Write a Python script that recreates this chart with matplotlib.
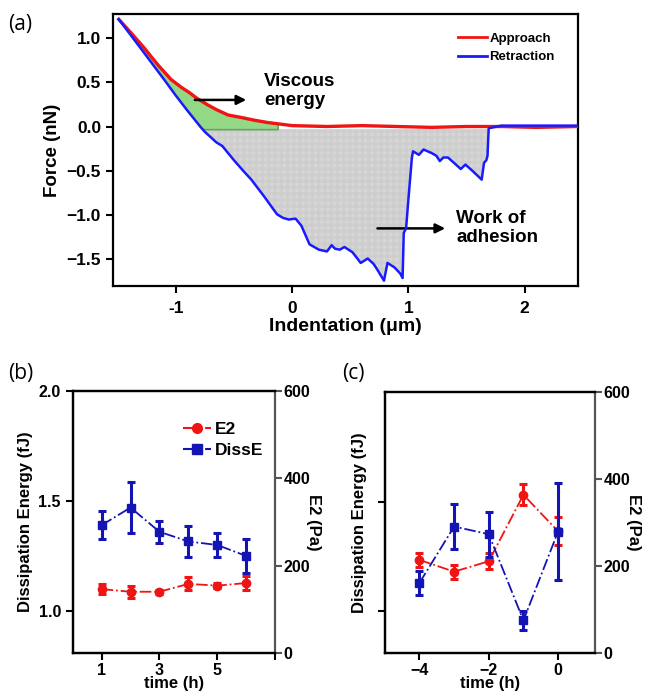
import numpy as np
import matplotlib
matplotlib.use("Agg")
from matplotlib import pyplot as plt
from matplotlib.lines import Line2D

plt.rcParams['font.family'] = ['Liberation Sans', 'DejaVu Sans']
plt.rcParams['font.weight'] = 'bold'
plt.rcParams['axes.labelweight'] = 'bold'
plt.rcParams['hatch.linewidth'] = 0.4
plt.rcParams['axes.unicode_minus'] = True

# ---- panel (a): force curves ----
app_x = [-1.49, -1.40, -1.28, -1.15, -1.04, -0.95, -0.88, -0.82, -0.72, -0.65,
         -0.55, -0.43, -0.32, -0.21, -0.12, 0.0, 0.3, 0.6, 0.9, 1.2, 1.5, 1.8,
         2.1, 2.45]
app_y = [1.21, 1.08, 0.90, 0.69, 0.53, 0.44, 0.38, 0.32, 0.24, 0.19,
         0.13, 0.10, 0.07, 0.045, 0.03, 0.01, 0.0, 0.01, 0.0, -0.01, 0.0, 0.0,
         -0.01, 0.0]

ret_x = [-1.49, -1.30, -1.10, -1.00, -0.90, -0.79, -0.75, -0.65, -0.60, -0.50,
         -0.42, -0.35, -0.24, -0.13, -0.08, -0.03, 0.03, 0.08, 0.15, 0.23,
         0.30, 0.34, 0.37, 0.41, 0.45, 0.52, 0.59, 0.65, 0.70, 0.73, 0.79,
         0.82, 0.88, 0.93, 0.95, 0.96, 0.98, 1.00, 1.03, 1.04, 1.09, 1.13,
         1.20, 1.24, 1.27, 1.30, 1.34, 1.40, 1.45, 1.49, 1.55, 1.63, 1.65,
         1.67, 1.68, 1.69, 1.80, 2.10, 2.45]
ret_y = [1.21, 0.88, 0.53, 0.35, 0.18, 0.0, -0.06, -0.18, -0.22, -0.38,
         -0.50, -0.60, -0.79, -0.99, -1.03, -1.05, -1.04, -1.12, -1.33, -1.39,
         -1.41, -1.34, -1.38, -1.39, -1.36, -1.42, -1.54, -1.49, -1.55, -1.61, -1.74,
         -1.54, -1.59, -1.66, -1.71, -1.20, -1.15, -0.82, -0.35, -0.28, -0.32, -0.26,
         -0.30, -0.33, -0.39, -0.35, -0.35, -0.42, -0.48, -0.43, -0.50, -0.60, -0.41,
         -0.38, -0.33, -0.02, 0.01, 0.01, 0.01]

# ---- panel (b) ----
t_b = [1, 2, 3, 4, 5, 6]
diss_b = [1.39, 1.47, 1.36, 1.316, 1.30, 1.25]
diss_b_err = [0.065, 0.115, 0.05, 0.07, 0.055, 0.075]
e2_b = [146, 140, 140, 158, 154, 160]
e2_b_err = [12, 14, 5, 15, 6, 15]

# ---- panel (c) ----
t_c = [-4, -3, -2, -1, 0]
diss_c = [1.13, 1.387, 1.352, 0.958, 1.364]
diss_c_err = [0.055, 0.103, 0.103, 0.045, 0.22]
e2_c = [214, 187, 211, 364, 280]
e2_c_err = [17, 16, 18, 24, 32]

RED = '#f01414'
BLUE = '#1a1aff'
DBLUE = '#1414b4'

fig = plt.figure(figsize=(6.49, 6.95), dpi=100)

# ================= (a) =================
ax = fig.add_axes([0.174, 0.5885, 0.717, 0.3914])
grid = np.linspace(min(app_x), max(app_x), 800)
a_i = np.interp(grid, app_x, app_y)
r_i = np.interp(grid, ret_x, ret_y)
ax.fill_between(grid, -0.03, r_i, where=(r_i < -0.03) & (grid < 1.7),
                facecolor='#f4f4f4', edgecolor='#cdcdcd', hatch='+' * 14,
                linewidth=0, zorder=1)
low = np.maximum(r_i, -0.03)
ax.fill_between(grid, low, a_i, where=grid <= -0.12, facecolor='#93d884',
                edgecolor='#6f9f62', linewidth=1.2, zorder=2)
ax.plot(app_x, app_y, color=RED, lw=2.4, zorder=3)
ax.plot(ret_x, ret_y, color=BLUE, lw=1.8, zorder=4)

ax.set_xlim(-1.54, 2.46)
ax.set_ylim(-1.80, 1.27)
ax.set_xticks([-1, 0, 1, 2])
ax.set_xticklabels(['-1', '0', '1', '2'])
ax.set_yticks([-1.5, -1.0, -0.5, 0.0, 0.5, 1.0])
ax.set_yticklabels(['\u22121.5', '\u22121.0', '\u22120.5', '0.0', '0.5', '1.0'])
ax.tick_params(labelsize=12.5, width=1.5, length=5)
ax.tick_params(axis='x', pad=6)
for s in ax.spines.values():
    s.set_linewidth(1.6)
ax.set_xlabel('Indentation (\u03bcm)', fontsize=14, labelpad=1)
ax.set_ylabel('Force (nN)', fontsize=13.5, labelpad=4)

ax.annotate('', xy=(-0.37, 0.30), xytext=(-0.86, 0.30),
            arrowprops=dict(arrowstyle='-|>', color='black', lw=1.8,
                            mutation_scale=14))
ax.text(-0.24, 0.40, 'Viscous\nenergy', fontsize=13.5, fontweight='bold',
        va='center', ha='left', linespacing=1.15)
ax.annotate('', xy=(1.34, -1.15), xytext=(0.71, -1.15),
            arrowprops=dict(arrowstyle='-|>', color='black', lw=1.8,
                            mutation_scale=14))
ax.text(1.41, -1.15, 'Work of\nadhesion', fontsize=13.5, fontweight='bold',
        va='center', ha='left', linespacing=1.15)

handles = [Line2D([], [], color=RED, lw=2), Line2D([], [], color=BLUE, lw=2)]
ax.legend(handles, ['Approach', 'Retraction'], loc='upper left',
          bbox_to_anchor=(0.73, 0.95), frameon=False, fontsize=9.5,
          handlelength=2.2, handletextpad=0.2, labelspacing=0.45,
          borderaxespad=0)

fig.text(0.012, 0.965, '(a)', fontsize=15, fontweight='normal',
         family='Open Sans', va='center')


def panel(rect, t, diss, diss_err, e2, e2_err, xlim, xticks, xlabels, ylabels):
    ax = fig.add_axes(rect)
    ax2 = ax.twinx()
    ax2.errorbar(t, e2, yerr=e2_err, color=RED, ls='-.', lw=1.3,
                 marker='o', ms=6, capsize=3, elinewidth=2.2, capthick=2.2)
    ax.errorbar(t, diss, yerr=diss_err, color=DBLUE, ls='-.', lw=1.3,
                marker='s', ms=6, capsize=3, elinewidth=2.2, capthick=2.2)
    ax.set_zorder(ax2.get_zorder() + 1)
    ax.patch.set_visible(False)
    ax.set_ylim(0.81, 2.0)
    ax2.set_ylim(0, 600)
    ax.set_xlim(*xlim)
    ax.set_xticks(xticks)
    ax.set_xticklabels(xlabels)
    if ylabels:
        ax.set_yticks([1.0, 1.5, 2.0])
        ax.set_yticklabels(['1.0', '1.5', '2.0'])
    else:
        ax.set_yticks([1.0, 1.5])
        ax.set_yticklabels(['', ''])
    ax2.set_yticks([0, 200, 400, 600])
    for a in (ax, ax2):
        a.tick_params(labelsize=11.5, width=1.5, length=5)
        for s in a.spines.values():
            s.set_linewidth(1.6)
    ax.tick_params(axis='x', pad=2)
    ax2.spines['right'].set_color('#555555')
    ax.spines['right'].set_visible(False)
    ax2.tick_params(axis='y', color='#555555', pad=1)
    ax.set_xlabel('time (h)', fontsize=12, labelpad=-1)
    ax.set_ylabel('Dissipation Energy (fJ)', fontsize=12, labelpad=4)
    ax2.set_ylabel('E2 (Pa)', fontsize=12, rotation=270, labelpad=8)
    return ax


# ================= (b) =================
axb = panel([0.112, 0.0606, 0.312, 0.377], t_b, diss_b, diss_b_err,
            e2_b, e2_b_err, (0, 7), [1, 3, 5, 7], ['1', '3', '5', ''], True)
leg_h = [Line2D([], [], color=RED, ls='-.', lw=1.5, marker='o', ms=7),
         Line2D([], [], color=DBLUE, ls='-.', lw=1.5, marker='s', ms=7)]
axb.legend(leg_h, ['E2', 'DissE'], loc='upper left',
           bbox_to_anchor=(0.47, 0.94), frameon=False, fontsize=12.5,
           handlelength=1.6, handletextpad=0.2, labelspacing=0.3)
fig.text(0.012, 0.463, '(b)', fontsize=15, fontweight='normal',
         family='Open Sans', va='center')

# ================= (c) =================
panel([0.593, 0.0606, 0.324, 0.3749], t_c, diss_c, diss_c_err, e2_c, e2_c_err,
      (-5, 1.07), [-4, -2, 0], ['\u22124', '\u22122', '0'], False)
fig.text(0.527, 0.463, '(c)', fontsize=15, fontweight='normal',
         family='Open Sans', va='center')

fig.savefig('out.png', dpi=100)
